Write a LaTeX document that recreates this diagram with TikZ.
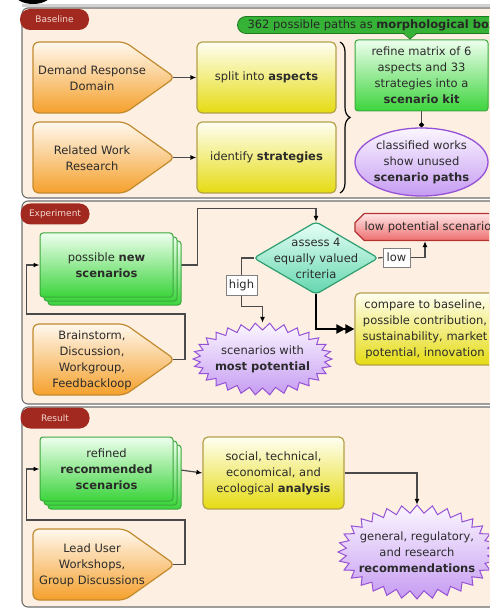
\documentclass[tikz,border=0pt]{standalone}
\usepackage{fontspec}
\setmainfont{DejaVu Sans}
\usetikzlibrary{arrows.meta,shapes.misc,shapes.geometric,decorations.pathreplacing,calc}
\definecolor{panelfill}{HTML}{FDF0E2}
\definecolor{panelbord}{HTML}{6E6E6E}
\definecolor{tagred}{HTML}{A1291F}
\definecolor{tagtext}{HTML}{F2D6CF}
\definecolor{textc}{HTML}{2B2B2B}
\definecolor{otop}{HTML}{FFF8EE}
\definecolor{obot}{HTML}{F5A02C}
\definecolor{obord}{HTML}{C28A2E}
\definecolor{ytop}{HTML}{FFFFF2}
\definecolor{ybot}{HTML}{E5DB12}
\definecolor{ybord}{HTML}{B3A048}
\definecolor{gtop}{HTML}{EEFFEE}
\definecolor{gbot}{HTML}{3CD43C}
\definecolor{gbord}{HTML}{3CA83C}
\definecolor{dtop}{HTML}{E8FFF7}
\definecolor{dbot}{HTML}{62D6AE}
\definecolor{dbord}{HTML}{2E9E70}
\definecolor{rtop}{HTML}{FFE6E6}
\definecolor{rbot}{HTML}{EE6E6E}
\definecolor{rbord}{HTML}{B23232}
\definecolor{ptop}{HTML}{FBF6FF}
\definecolor{pbot}{HTML}{C69CF2}
\definecolor{pbord}{HTML}{9552D6}
\definecolor{cgfill}{HTML}{36B336}
\definecolor{cgbord}{HTML}{1F7A1F}
\definecolor{conc}{HTML}{4A4A4A}
\newcommand\dfs{\fontsize{11.5}{16}\selectfont}
\pgfdeclarelayer{panel}
\pgfdeclarelayer{conn}
\pgfsetlayers{panel,conn,main}
\newcommand\pent[4]{%
  \path[pentfill] (#2,#3) -- (#2+92,#3) -- (#2+142,#3+35.5) -- (#2+92,#3+71) -- (#2,#3+71) -- cycle;
  \coordinate (#1-tip) at (#2+140,#3+35.5);
  \node[txt] (#1) at (#2+59,#3+36) {#4};}
\newcommand\stackcopies[4]{%
  \path[gbox] (#1+8,#2+8) rectangle (#3+8,#4+8);
  \path[gbox] (#1+4,#2+4) rectangle (#3+4,#4+4);}
% cx cy rx ry h nverts
\newcommand\burst[6]{%
  \pgfmathtruncatemacro\blast{#6-1}%
  \pgfmathsetmacro\bstep{360/#6}%
  \path[burstfill] (#1+#3,#2) \foreach \i in {1,...,\blast} { -- ({#1+(#3-#5*mod(\i,2))*cos(\i*\bstep)},{#2+(#4-#5*mod(\i,2))*sin(\i*\bstep)}) } -- cycle;}
\begin{document}
\begin{tikzpicture}[x=1pt,y=-1pt,
  txt/.style={font=\dfs, text=textc, align=center, inner sep=0},
  ybox/.style={draw=ybord, line width=1.2, rounded corners=5, top color=ytop, bottom color=ybot, txt},
  gbox/.style={draw=gbord, line width=1, rounded corners=3, top color=gtop, bottom color=gbot},
  pentfill/.style={draw=obord, line width=1.2, rounded corners=6, top color=otop, bottom color=obot},
  burstfill/.style={draw=pbord, line width=1, top color=ptop, bottom color=pbot},
  conn/.style={draw=conc, line width=1.2},
  arr/.style={conn, -{Latex[length=6pt,width=5pt,color=black]}},
  lbl/.style={draw=gray, fill=white, line width=0.8, txt, inner sep=1},
  tag/.style={fill=tagred, rounded corners=10, minimum width=69, minimum height=21, text=tagtext, font=\fontsize{9}{10}\selectfont, inner sep=0},
  panel/.style={draw=panelbord, fill=panelfill, line width=1.1, rounded corners=6}]
\useasboundingbox (0,0) rectangle (489,609);
\clip (0,0) rectangle (489,609);
\begin{pgfonlayer}{panel}
  \fill[white] (0,0) rectangle (489,609);
  \fill[black] (33,-7) ellipse [x radius=19, y radius=11];
  \draw[gray!35, line width=3] (22,6) -- (520,6);
  \draw[panel] (22,8) rectangle (530,198);
  \draw[panel] (22,201) rectangle (530,404);
  \draw[panel] (22,407) rectangle (530,607);
\end{pgfonlayer}
% tags
\node[tag] (tb) at (54.5,19.5) {Baseline};
\node[tag] (te) at (55,214) {Experiment};
\node[tag] (tr) at (55,418) {Result};
% ---------- Baseline
\pent{drd}{33}{42}{Demand Response\\Domain}
\pent{rwr}{33}{122}{Related Work\\Research}
\node[ybox, minimum width=139, minimum height=71] (split) at (266.5,77.5) {split into \textbf{aspects}};
\node[ybox, minimum width=139, minimum height=71] (ident) at (266.5,157.5) {identify \textbf{strategies}};
\node[gbox, txt, minimum width=133, minimum height=71] (refine) at (421.5,75.5) {refine matrix of 6\\aspects and 33\\strategies into a\\\textbf{scenario kit}};
\node[rounded rectangle, draw=cgbord, fill=cgfill, line width=0.8, font=\dfs, text=black!85, inner xsep=8, inner ysep=0, minimum height=17] (morph) at (372,25) {362 possible paths as \textbf{morphological box}};
\fill[cgfill] (403,32) -- (417,32) -- (410,39) -- cycle;
\draw[cgbord, line width=0.8] (403,33.2) -- (410,39) -- (417,33.2);
\draw[black, line width=1.2, decorate, decoration={brace, amplitude=10}] (340,42) -- (340,193);
\node[ellipse, draw=pbord, line width=1.3, top color=ptop, bottom color=pbot, minimum width=133, minimum height=68, inner sep=0] (cls) at (421.5,162) {};
\node[txt] (clst) at (cls) {classified works\\show unused\\\textbf{scenario paths}};
% ---------- Experiment
\stackcopies{40}{233}{173}{297}
\node[gbox, txt, minimum width=133, minimum height=64] (pns) at (106.5,265) {possible \textbf{new}\\\textbf{scenarios}};
\pent{bs}{33}{324}{Brainstorm,\\Discussion,\\Workgroup,\\Feedbackloop}
\node[minimum width=124, minimum height=72, inner sep=0] (dia) at (316,258) {};
\path[draw=dbord, line width=1.2, top color=dtop, bottom color=dbot, rounded corners=4] (dia.north) -- (dia.east) -- (dia.south) -- (dia.west) -- cycle;
\node[txt] (diat) at (dia) {assess 4\\equally valued\\criteria};
\node[chamfered rectangle, chamfered rectangle xsep=8pt, draw=rbord, line width=1.2, top color=rtop, bottom color=rbot, minimum width=152, minimum height=27, txt] (oct) at (431,227) {low potential scenarios};
\node[lbl, minimum width=27, minimum height=19] (low) at (396.5,257.5) {low};
\node[lbl, minimum width=31, minimum height=20] (high) at (241.5,285) {high};
\burst{262.5}{359}{69.5}{36}{7}{60}
\node[ellipse, minimum width=139, minimum height=72, inner sep=0] (sb1) at (262.5,359) {};
\node[txt] (sb1t) at (sb1) {scenarios with\\\textbf{most potential}};
\node[ybox, minimum width=140, minimum height=72] (cmp) at (425,329) {compare to baseline,\\possible contribution,\\sustainability, market\\potential, innovation};
% ---------- Result
\stackcopies{40}{437}{173}{501}
\node[gbox, txt, minimum width=133, minimum height=64] (rrs) at (106.5,469) {refined\\\textbf{recommended}\\\textbf{scenarios}};
\pent{lus}{33}{529}{Lead User\\Workshops,\\Group Discussions}
\node[ybox, minimum width=141, minimum height=72] (soc) at (273.5,473) {social, technical,\\economical, and\\ecological \textbf{analysis}};
\burst{417}{552}{79}{47}{8}{64}
\node[ellipse, minimum width=158, minimum height=94, inner sep=0] (sb2) at (417,552) {};
\node[txt] (sb2t) at (sb2) {general, regulatory,\\and research\\\textbf{recommendations}};
% ---------- connectors
\begin{pgfonlayer}{conn}
  \draw[arr] (drd-tip) -- (split.west);
  \draw[arr] (rwr-tip) -- (ident.west);
  \draw[conn, -{Circle[length=5pt,color=black]}] (refine.south) -- (cls.north);
  \draw[arr] (bs-tip) -- ++(12,0) |- ($(pns.west)+(-13,49)$) |- (pns.west);
  \draw[arr] (pns.east) -- ++(24,0) |- ($(dia.north)+(0,-13)$) -- (dia.north);
  \draw[conn] (dia.east) -- (low.west);
  \draw[arr] (low.east) -| ($(oct.south)+(-6,0)$);
  \draw[arr] (dia.west) -| ($(sb1.north)+(-21,-16)$) -| (sb1.north);
  \draw[black, line width=2, -{Triangle[length=9pt,width=9pt]Triangle[length=9pt,width=9pt]}] (dia.south) |- (cmp.west);
  \draw[arr] (lus-tip) -- ++(12,0) |- ($(rrs.west)+(-13,51)$) |- (rrs.west);
  \draw[arr] (rrs.east) -- (soc.west);
  \draw[arr] (soc.east) -| (sb2.north);
\end{pgfonlayer}
\end{tikzpicture}
\end{document}
